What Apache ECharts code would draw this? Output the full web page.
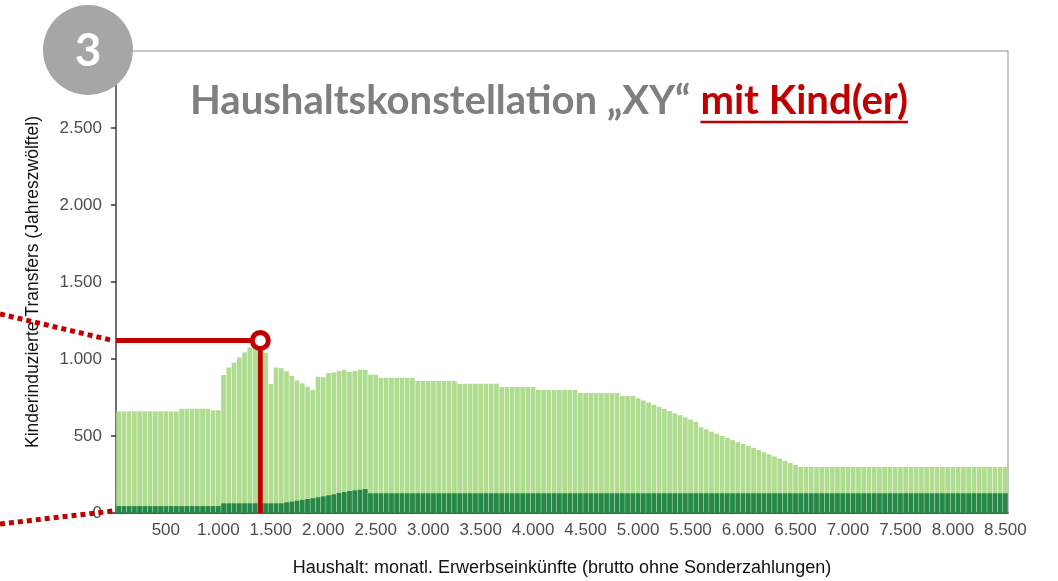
<!DOCTYPE html>
<html>
<head>
<meta charset="utf-8">
<script src="https://cdn.jsdelivr.net/npm/echarts@6/dist/echarts.min.js"></script>
<style>
  html, body { margin: 0; padding: 0; background: #fff; }
  #chart { width: 1058px; height: 581px; }
</style>
</head>
<body>
<div id="chart"></div>
<script>
// income bins (monthly gross, 50 EUR steps, bar centre values)
const incomeBins = Array.from({ length: 170 }, (_, i) => (i + 1) * 50)

// total child-induced transfers per bin (light green)
const totalTransfers = [
  660, 660, 660, 660, 660, 660, 660, 660, 660, 660,
  660, 660, 677, 677, 677, 677, 677, 677, 667, 667,
  896, 944, 976, 1009, 1043, 1074, 1100, 1120, 1041, 838,
  944, 940, 920, 889, 861, 842, 820, 799, 885, 881,
  909, 913, 922, 931, 916, 922, 931, 931, 898, 898,
  879, 879, 879, 879, 879, 879, 879, 857, 857, 857,
  857, 857, 857, 857, 857, 840, 840, 840, 840, 840,
  840, 840, 840, 818, 818, 818, 818, 818, 818, 818,
  799, 799, 799, 799, 799, 799, 799, 799, 779, 779,
  779, 779, 779, 779, 779, 779, 760, 760, 760, 745,
  731, 717, 703, 689, 676, 662, 648, 635, 621, 607,
  593, 557, 543, 529, 515, 501, 487, 473, 460, 448,
  436, 423, 409, 395, 381, 367, 353, 339, 325, 312,
  299, 299, 299, 299, 299, 299, 299, 299, 299, 299,
  299, 299, 299, 299, 299, 299, 299, 299, 299, 299,
  299, 299, 299, 299, 299, 299, 299, 299, 299, 299,
  299, 299, 299, 299, 299, 299, 299, 299, 299, 299,
]

// lower part (dark green)
const baseTransfers = [
  45, 45, 45, 45, 45, 45, 45, 45, 45, 45,
  45, 45, 45, 45, 45, 45, 45, 45, 45, 45,
  63, 63, 63, 63, 63, 63, 63, 63, 63, 63,
  63, 63, 69, 74, 80, 85, 91, 96, 102, 108,
  115, 121, 130, 136, 143, 147, 151, 156, 128, 128,
  128, 128, 128, 128, 128, 128, 128, 128, 128, 128,
  128, 128, 128, 128, 128, 128, 128, 128, 128, 128,
  128, 128, 128, 128, 128, 128, 128, 128, 128, 128,
  128, 128, 128, 128, 128, 128, 128, 128, 128, 128,
  128, 128, 128, 128, 128, 128, 128, 128, 128, 128,
  128, 128, 128, 128, 128, 128, 128, 128, 128, 128,
  128, 128, 128, 128, 128, 128, 128, 128, 128, 128,
  128, 128, 128, 128, 128, 128, 128, 128, 128, 128,
  128, 128, 128, 128, 128, 128, 128, 128, 128, 128,
  128, 128, 128, 128, 128, 128, 128, 128, 128, 128,
  128, 128, 128, 128, 128, 128, 128, 128, 128, 128,
  128, 128, 128, 128, 128, 128, 128, 128, 128, 128,
]

// highlighted household: income / transfer
const marker = [1400, 1120]
const axisStart = 25

const titleGrey = 'Haushaltskonstellation „XY“ '
const titleRed = 'mit Kind(er)'
const badge = '3'
const xName = 'Haushalt: monatl. Erwerbseinkünfte (brutto ohne Sonderzahlungen)'
const yName = 'Kinderinduzierte Transfers (Jahreszwölftel)'

const LIGHT = '#b0dc8f'
const DARK = '#25874a'
const RED = '#c00000'

const fmt = (v) => String(v).replace(/\B(?=(\d{3})+(?!\d))/g, '.')
const isTick = (i, v) => Number(v) % 500 === 0

const ctx = document.createElement('canvas').getContext('2d')
function textWidth(s, size) {
  ctx.font = 'bold ' + size + 'px Lato'
  return ctx.measureText(s).width
}
const titleLeft = 190
const titleRight = 908
const titleSize = 36 * (titleRight - titleLeft) / textWidth(titleGrey + titleRed, 36)
const redWidth = textWidth(titleRed, titleSize)

const chart = echarts.init(document.getElementById('chart'))

chart.setOption({
  animation: false,
  backgroundColor: '#fff',
  grid: {
    left: 116, right: 50, top: 51, bottom: 68,
    show: true, borderColor: '#8a8a8a', borderWidth: 1,
    outerBoundsMode: 'none',
  },
  xAxis: [
    {
      type: 'category',
      data: incomeBins,
      name: xName,
      nameLocation: 'middle',
      nameGap: 46,
      nameTextStyle: { color: '#111', fontSize: 18, fontFamily: 'Liberation Sans' },
      axisLine: { lineStyle: { color: '#333', width: 1.5 } },
      axisTick: { alignWithLabel: true, interval: isTick, length: 5, lineStyle: { color: '#333', width: 1.5 } },
      axisLabel: {
        interval: isTick, formatter: (v) => fmt(v),
        color: '#4d4d4d', fontSize: 17, fontFamily: 'Liberation Sans', margin: 9,
      },
      splitLine: { show: false },
    },
    { type: 'value', min: axisStart, max: 8525, show: false },
  ],
  yAxis: {
    type: 'value',
    min: 0,
    max: 3000,
    interval: 500,
    name: yName,
    nameLocation: 'middle',
    nameGap: 74,
    nameRotate: 90,
    nameTextStyle: { color: '#111', fontSize: 17.5, fontFamily: 'Liberation Sans' },
    axisLine: { show: true, lineStyle: { color: '#555', width: 1.5 } },
    axisTick: { show: true, length: 5, lineStyle: { color: '#333', width: 1.5 } },
    axisLabel: {
      formatter: (v) => (v === 3000 ? '' : fmt(v)),
      color: '#4d4d4d', fontSize: 17, fontFamily: 'Liberation Sans', margin: 14,
    },
    splitLine: { show: false },
  },
  series: [
    {
      type: 'bar',
      data: totalTransfers,
      barCategoryGap: '10%',
      barGap: '-100%',
      itemStyle: { color: LIGHT },
    },
    {
      type: 'bar',
      data: baseTransfers,
      itemStyle: { color: DARK },
    },
    {
      type: 'line',
      xAxisIndex: 1,
      data: [[axisStart, marker[1]], marker, [marker[0], 0]],
      symbol: 'none',
      lineStyle: { color: RED, width: 5 },
      z: 5,
    },
    {
      type: 'scatter',
      xAxisIndex: 1,
      data: [marker],
      symbolSize: 16,
      itemStyle: { color: '#fff', borderColor: RED, borderWidth: 5, opacity: 1 },
      z: 6,
    },
  ],
})

const lineStart = chart.convertToPixel({ xAxisIndex: 1, yAxisIndex: 0 }, [axisStart, marker[1]])
const origin = chart.convertToPixel({ xAxisIndex: 1, yAxisIndex: 0 }, [axisStart, 0])

chart.setOption({
  graphic: [
    {
      type: 'line', z: 20, silent: true,
      shape: { x1: 0, y1: 314, x2: lineStart[0] - 3, y2: lineStart[1] },
      style: { stroke: RED, lineWidth: 5, lineDash: [5, 4] },
    },
    {
      type: 'line', z: 20, silent: true,
      shape: { x1: 0, y1: 524, x2: origin[0] - 3, y2: origin[1] - 2 },
      style: { stroke: RED, lineWidth: 5, lineDash: [5, 4] },
    },
    {
      type: 'circle', z: 30, silent: true,
      shape: { cx: 88, cy: 50, r: 45 },
      style: { fill: '#a6a6a6' },
    },
    {
      type: 'text', z: 31, silent: true,
      x: 88, y: 51,
      style: {
        text: badge, fill: '#fff', font: 'bold 46px Lato',
        align: 'center', verticalAlign: 'middle',
      },
    },
    {
      type: 'text', z: 31, silent: true,
      x: titleLeft, y: 101,
      style: {
        text: titleGrey, fill: '#7f7f7f', font: 'bold ' + titleSize + 'px Lato',
        align: 'left', verticalAlign: 'middle',
      },
    },
    {
      type: 'text', z: 31, silent: true,
      x: titleRight, y: 101,
      style: {
        text: titleRed, fill: RED, font: 'bold ' + titleSize + 'px Lato',
        align: 'right', verticalAlign: 'middle',
      },
    },
    {
      type: 'line', z: 31, silent: true,
      shape: { x1: titleRight - redWidth, y1: 122, x2: titleRight, y2: 122 },
      style: { stroke: RED, lineWidth: 2.5 },
    },
  ],
})
</script>
</body>
</html>
